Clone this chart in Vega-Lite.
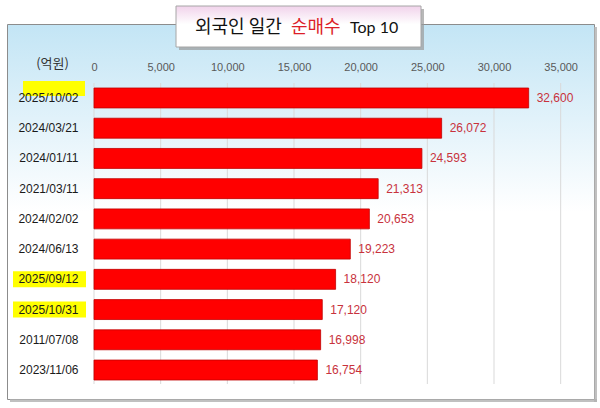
{
  "$schema": "https://vega.github.io/schema/vega-lite/v6.json",
  "background": "#ffffff",
  "padding": {"left": 7, "top": 5, "right": 0, "bottom": 0},
  "config": {"font": "Liberation Sans"},
  "width": 587,
  "height": 375,
  "view": {
    "fill": {
      "gradient": "linear", "x1": 0, "y1": 0, "x2": 0, "y2": 1,
      "stops": [
        {"offset": 0, "color": "#c3e5f5"},
        {"offset": 0.5, "color": "#ffffff"},
        {"offset": 1, "color": "#ffffff"}
      ]
    },
    "stroke": "#8c8c8c",
    "strokeWidth": 1
  },
  "data": {
    "values": [
      {"date": "2025/10/02", "value": 32600},
      {"date": "2024/03/21", "value": 26072},
      {"date": "2024/01/11", "value": 24593},
      {"date": "2021/03/11", "value": 21313},
      {"date": "2024/02/02", "value": 20653},
      {"date": "2024/06/13", "value": 19223},
      {"date": "2025/09/12", "value": 18120},
      {"date": "2025/10/31", "value": 17120},
      {"date": "2011/07/08", "value": 16998},
      {"date": "2023/11/06", "value": 16754}
    ]
  },
  "layer": [
    {
      "data": {"values": [{}]},
      "mark": {"type": "rect", "color": "#b0b0b0", "opacity": 0.8},
      "encoding": {
        "x": {"datum": 37500, "type": "quantitative"},
        "x2": {"datum": 37725},
        "y": {"datum": "2025/10/02", "type": "nominal", "bandPosition": -3.058},
        "y2": {"datum": "2025/10/02", "bandPosition": 15.739}
      }
    },
    {
      "data": {"values": [{}]},
      "mark": {"type": "rect", "color": "#b0b0b0", "opacity": 0.8},
      "encoding": {
        "x": {"datum": -6300, "type": "quantitative"},
        "x2": {"datum": 37725},
        "y": {"datum": "2025/10/02", "type": "nominal", "bandPosition": 15.589},
        "y2": {"datum": "2025/10/02", "bandPosition": 15.739}
      }
    },
    {
      "data": {"values": [{"tick": 0}, {"tick": 5000}, {"tick": 10000}, {"tick": 15000}, {"tick": 20000}, {"tick": 25000}, {"tick": 30000}, {"tick": 35000}]},
      "mark": {"type": "rule", "color": "#d9d9d9", "strokeWidth": 1, "yOffset": -5, "y2Offset": 4},
      "encoding": {
        "x": {"field": "tick", "type": "quantitative"},
        "y": {"datum": "2025/10/02", "type": "nominal", "bandPosition": 0},
        "y2": {"datum": "2023/11/06", "bandPosition": 1}
      }
    },
    {
      "transform": [{"filter": {"field": "date", "oneOf": ["2025/09/12", "2025/10/31"]}}],
      "mark": {"type": "bar", "color": "#ffff00", "height": {"band": 0.8}},
      "encoding": {
        "x": {"datum": -6075, "type": "quantitative"},
        "x2": {"datum": -600},
        "y": {"field": "date", "type": "nominal"}
      }
    },
    {
      "transform": [{"filter": {"field": "date", "equal": "2025/10/02"}}],
      "mark": {"type": "rect", "color": "#ffff00"},
      "encoding": {
        "x": {"datum": -5325, "type": "quantitative"},
        "x2": {"datum": -675},
        "y": {"datum": "2025/10/02", "type": "nominal", "bandPosition": -0.35},
        "y2": {"datum": "2025/10/02", "bandPosition": 0.4}
      }
    },
    {
      "mark": {"type": "bar", "fill": "#ff0000", "stroke": "#c00000", "strokeWidth": 0.8},
      "encoding": {
        "x": {
          "field": "value",
          "type": "quantitative",
          "scale": {"domain": [-6525, 37500], "nice": false, "zero": false},
          "axis": {
            "orient": "top",
            "values": [0, 5000, 10000, 15000, 20000, 25000, 30000, 35000],
            "format": ",d",
            "domain": false,
            "ticks": false,
            "tickSize": 0,
            "grid": false,
            "labelFlush": false,
            "labelPadding": 0,
            "labelBaseline": "middle",
            "offset": -43,
            "labelFontSize": 11,
            "labelColor": "#595959",
            "title": null
          }
        },
        "y": {
          "field": "date",
          "type": "nominal",
          "scale": {
            "domain": ["2025/10/02", "2024/03/21", "2024/01/11", "2021/03/11", "2024/02/02", "2024/06/13", "2025/09/12", "2025/10/31", "2011/07/08", "2023/11/06"],
            "range": [64, 356],
            "paddingInner": 0.34,
            "paddingOuter": 0
          },
          "axis": {
            "orient": "left",
            "offset": -71,
            "domain": false,
            "ticks": false,
            "tickSize": 0,
            "grid": false,
            "labelPadding": 0,
            "labelFontSize": 12,
            "labelColor": "#1a1a1a",
            "title": "(억원)",
            "titleAngle": 0,
            "titleX": -26,
            "titleY": 39,
            "titleAlign": "center",
            "titleBaseline": "middle",
            "titleFont": "Noto Sans CJK KR",
            "titleFontSize": 13,
            "titleFontWeight": "normal",
            "titleColor": "#333333",
            "zindex": 1
          }
        }
      }
    },
    {
      "mark": {"type": "text", "align": "left", "dx": 8, "color": "#c8323c", "fontSize": 12},
      "encoding": {
        "x": {"field": "value", "type": "quantitative"},
        "y": {"field": "date", "type": "nominal"},
        "text": {"field": "value", "type": "quantitative", "format": ","}
      }
    },
    {
      "data": {"values": [{}]},
      "mark": {"type": "rect", "color": "#9a9a9a", "opacity": 0.7},
      "encoding": {
        "x": {"datum": 6375, "type": "quantitative"},
        "x2": {"datum": 24750},
        "y": {"datum": "2025/10/02", "type": "nominal", "bandPosition": -3.96},
        "y2": {"datum": "2025/10/02", "bandPosition": -1.905}
      }
    },
    {
      "data": {"values": [{}]},
      "mark": {
        "type": "rect",
        "stroke": "#a6a6a6",
        "strokeWidth": 1,
        "fill": {
          "gradient": "linear", "x1": 0, "y1": 0, "x2": 0, "y2": 1,
          "stops": [
            {"offset": 0, "color": "#f1d3eb"},
            {"offset": 0.45, "color": "#ffffff"},
            {"offset": 1, "color": "#ffffff"}
          ]
        }
      },
      "encoding": {
        "x": {"datum": 6150, "type": "quantitative"},
        "x2": {"datum": 24525},
        "y": {"datum": "2025/10/02", "type": "nominal", "bandPosition": -4.11},
        "y2": {"datum": "2025/10/02", "bandPosition": -2.055}
      }
    },
    {
      "data": {"values": [{}]},
      "mark": {"type": "text", "text": "외국인 일간", "align": "left", "baseline": "middle", "font": "Noto Sans CJK KR", "fontSize": 18, "color": "#111111"},
      "encoding": {
        "x": {"datum": 7575, "type": "quantitative"},
        "y": {"datum": "2025/10/02", "type": "nominal", "bandPosition": -3.0}
      }
    },
    {
      "data": {"values": [{}]},
      "mark": {"type": "text", "text": "순매수", "align": "left", "baseline": "middle", "font": "Noto Sans CJK KR", "fontSize": 18, "color": "#dc1e28"},
      "encoding": {
        "x": {"datum": 14775, "type": "quantitative"},
        "y": {"datum": "2025/10/02", "type": "nominal", "bandPosition": -3.0}
      }
    },
    {
      "data": {"values": [{}]},
      "mark": {"type": "text", "text": "Top 10", "align": "left", "baseline": "middle", "font": "Lato", "fontSize": 16, "color": "#111111"},
      "encoding": {
        "x": {"datum": 19200, "type": "quantitative"},
        "y": {"datum": "2025/10/02", "type": "nominal", "bandPosition": -3.0}
      }
    }
  ]
}
